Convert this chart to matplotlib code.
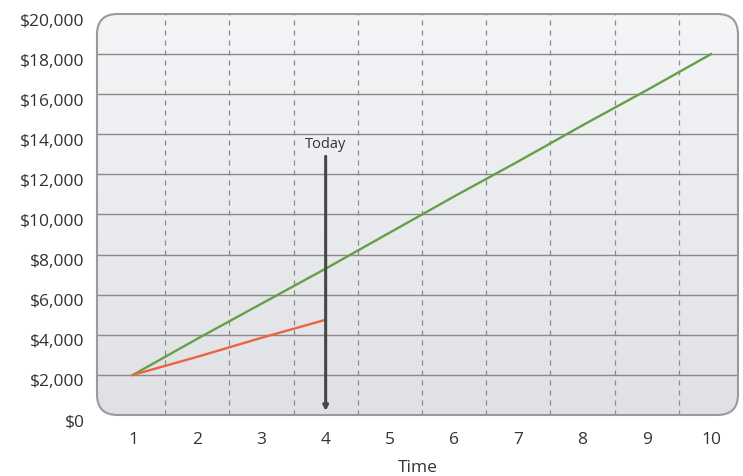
import numpy as np
import matplotlib
matplotlib.use("Agg")
import matplotlib.pyplot as plt
import matplotlib.transforms as mtransforms
from matplotlib.patches import FancyBboxPatch

# data
time = [1, 2, 3, 4, 5, 6, 7, 8, 9, 10]
projected = [2000, 3800, 5550, 7300, 9100, 10900, 12650, 14450, 16200, 18000]
actual_time = [1, 2, 3, 4]
actual = [2000, 2900, 3850, 4750]
today_x = 4
today_top = 12900
today_bottom = 200
y_ticks = [0, 2000, 4000, 6000, 8000, 10000, 12000, 14000, 16000, 18000, 20000]
y_labels = ["$0", "$2,000", "$4,000", "$6,000", "$8,000", "$10,000",
            "$12,000", "$14,000", "$16,000", "$18,000", "$20,000"]

color_green = "#66a046"
color_red = "#e8653f"
text_color = "#333333"

plt.rcParams["font.family"] = ["Open Sans", "DejaVu Sans"]

fig = plt.figure(figsize=(7.43, 4.76), dpi=100)
ax = fig.add_axes([97 / 743, 61 / 476, 641 / 743, 401 / 476])
ax.set_xlim(0.44, 10.42)
ax.set_ylim(0, 20000)
for s in ax.spines.values():
    s.set_visible(False)
ax.patch.set_visible(False)

# rounded plot area with a soft vertical gradient
box = FancyBboxPatch((0, 0), 1, 1, boxstyle="round,pad=0,rounding_size=0.032",
                     mutation_aspect=641 / 401, transform=ax.transAxes,
                     facecolor="none", edgecolor="#9a9a9a", linewidth=1.5,
                     zorder=5, clip_on=False)
ax.add_patch(box)
grad = np.linspace(0, 1, 256).reshape(-1, 1)
cmap = matplotlib.colors.LinearSegmentedColormap.from_list("bg", ["#dfe1e5", "#f4f5f7"])
img = ax.imshow(grad, cmap=cmap, aspect="auto", origin="lower",
                extent=[0, 1, 0, 1], transform=ax.transAxes, zorder=0)
img.set_clip_path(box)

# grid: solid horizontal, dashed vertical half-way between ticks
for yv in y_ticks[1:-1]:
    ln = ax.axhline(yv, color="#8a8a8a", linewidth=1.0, zorder=1)
    ln.set_clip_path(box)
for xv in np.arange(1.5, 10, 1.0):
    ln = ax.axvline(xv, color="#8a8a8a", linewidth=0.9, linestyle=(0, (4, 4)), zorder=1)
    ln.set_clip_path(box)

ax.plot(time, projected, color=color_green, linewidth=1.7, zorder=3)
ax.plot(actual_time, actual, color=color_red, linewidth=1.7, zorder=3)

# "Today" marker
ax.annotate("", xy=(today_x, today_bottom), xytext=(today_x, today_top),
            arrowprops=dict(arrowstyle="-|>", color="#464646", lw=2.2,
                            mutation_scale=7, shrinkA=0, shrinkB=0), zorder=4)
ax.text(today_x, today_top + 200, "Today", ha="center", va="bottom",
        fontsize=10.5, color=text_color)

ax.set_xticks(time)
ax.set_xticklabels([str(t) for t in time])
ax.set_yticks(y_ticks)
ax.set_yticklabels(y_labels)
ax.tick_params(length=0, labelsize=12.5, labelcolor=text_color)
ax.tick_params(axis="x", pad=12)
ax.tick_params(axis="y", pad=9)
shift = mtransforms.ScaledTranslation(0, -4 / 72, fig.dpi_scale_trans)
for lbl in ax.get_yticklabels():
    lbl.set_transform(lbl.get_transform() + shift)
ax.set_xlabel("Time", fontsize=12.5, color=text_color, labelpad=9)

fig.savefig("out.png", dpi=100)
